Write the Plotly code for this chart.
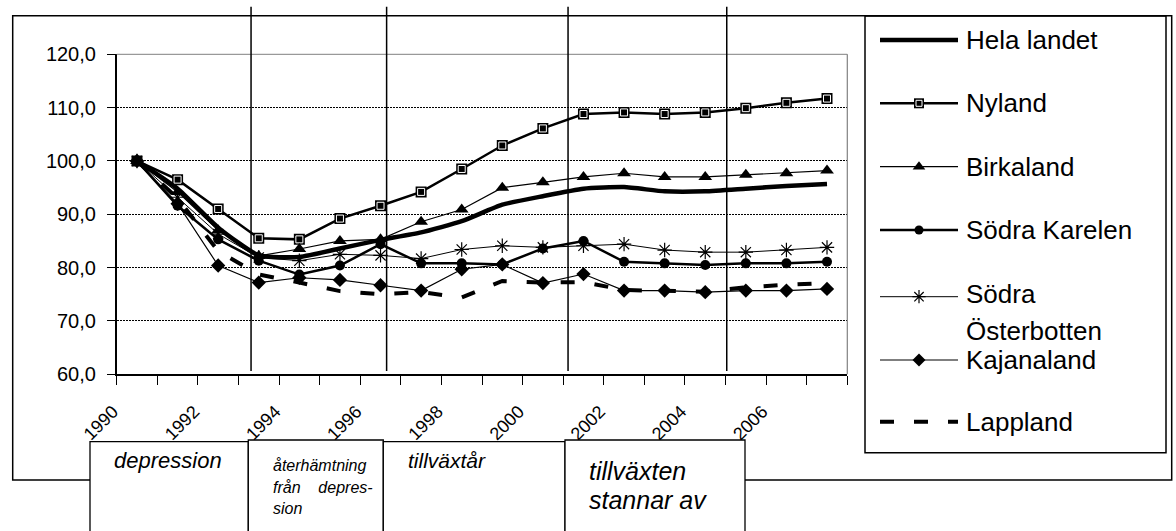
import plotly.graph_objects as go

W, H = 1176, 531

# ---------------- data ----------------
years = list(range(1990, 2008))
hela_landet = [100, 94.8, 87.5, 82.3, 82.0, 83.6, 85.2, 86.6, 88.7, 91.8, 93.4, 94.8, 95.1, 94.3, 94.3, 94.8, 95.3, 95.7]
nyland = [100, 96.5, 91.0, 85.5, 85.3, 89.2, 91.6, 94.2, 98.5, 102.9, 106.1, 108.8, 109.1, 108.8, 109.1, 109.9, 110.9, 111.7]
birkaland = [100, 94.2, 87.0, 82.2, 83.5, 85.0, 85.3, 88.6, 90.9, 95.0, 96.0, 97.0, 97.7, 97.0, 97.0, 97.4, 97.7, 98.2]
sodra_karelen = [100, 91.6, 85.3, 81.3, 78.7, 80.4, 84.4, 80.8, 80.8, 80.6, 83.6, 85.0, 81.1, 80.8, 80.5, 80.8, 80.8, 81.1]
sodra_osterbotten = [100, 93.2, 86.3, 81.9, 81.3, 82.5, 82.3, 81.7, 83.4, 84.1, 83.8, 84.1, 84.4, 83.3, 82.9, 82.9, 83.3, 83.8]
kajanaland = [100, 92.0, 80.4, 77.2, 78.1, 77.7, 76.7, 75.7, 79.7, 80.6, 77.1, 78.8, 75.7, 75.7, 75.4, 75.7, 75.7, 76.0]
lappland = [100, 93.0, 83.1, 78.7, 77.2, 75.6, 75.0, 75.4, 74.4, 77.5, 77.2, 77.3, 75.8, 75.6, 75.5, 76.3, 76.8, 77.1]

tick_years = [1990, 1992, 1994, 1996, 1998, 2000, 2002, 2004, 2006]
y_ticks = [60, 70, 80, 90, 100, 110, 120]
phase_lines = [1992.81, 1996.15, 2000.62, 2004.53]

legend_names = ["Hela landet", "Nyland", "Birkaland", "Södra Karelen", "Södra", "Österbotten", "Kajanaland", "Lappland"]
phase_texts = ["depression", "återhämtning", "från\u00a0\u00a0\u00a0\u00a0depres-", "sion", "tillväxtår", "tillväxten", "stannar av"]


def px(x):
    return x / W


def py(y):
    return 1 - y / H


fig = go.Figure()

# ---------------- series ----------------
fig.add_trace(go.Scatter(x=years, y=hela_landet, mode="lines", name=legend_names[0],
                         line=dict(color="black", width=4.5, shape="spline", smoothing=0.5)))
fig.add_trace(go.Scatter(x=years, y=nyland, mode="lines+markers", name=legend_names[1],
                         line=dict(color="black", width=2.5),
                         marker=dict(symbol="square", size=11, color="black")))
fig.add_trace(go.Scatter(x=years, y=nyland, mode="markers", showlegend=False,
                         marker=dict(symbol="square-open", size=7, color="white", line=dict(width=1, color="white"))))
fig.add_trace(go.Scatter(x=years, y=birkaland, mode="lines+markers", name=legend_names[2],
                         line=dict(color="black", width=1.2),
                         marker=dict(symbol="triangle-up", size=12, color="black")))
fig.add_trace(go.Scatter(x=years, y=sodra_karelen, mode="lines+markers", name=legend_names[3],
                         line=dict(color="black", width=2.5),
                         marker=dict(symbol="circle", size=10, color="black")))
fig.add_trace(go.Scatter(x=years, y=sodra_osterbotten, mode="lines+markers", name="Södra Österbotten",
                         line=dict(color="black", width=1),
                         marker=dict(symbol="asterisk-open", size=12, color="black", line=dict(width=1.2, color="black"))))
fig.add_trace(go.Scatter(x=years, y=kajanaland, mode="lines+markers", name=legend_names[6],
                         line=dict(color="black", width=1.2),
                         marker=dict(symbol="diamond", size=11, color="black")))
fig.add_trace(go.Scatter(x=years, y=lappland, mode="lines", name=legend_names[7],
                         line=dict(color="black", width=4, dash="14px,20px")))

# ---------------- custom legend (overlay pixel axes) ----------------
row_y = [40, 103.3, 166.7, 230, 296.7, 360, 421.7]
seg_x = [880, 958]
mid_x = 919
styles = [
    dict(width=4.5, dash="solid", marker=None),
    dict(width=2.5, dash="solid", marker=dict(symbol="square", size=10, color="black")),
    dict(width=1.2, dash="solid", marker=dict(symbol="triangle-up", size=11, color="black")),
    dict(width=2.5, dash="solid", marker=dict(symbol="circle", size=9, color="black")),
    dict(width=1, dash="solid", marker=dict(symbol="asterisk-open", size=11, color="black", line=dict(width=1.2, color="black"))),
    dict(width=1.2, dash="solid", marker=dict(symbol="diamond", size=10, color="black")),
    dict(width=4, dash="14px,20px", marker=None),
]
for ry, st in zip(row_y, styles):
    fig.add_trace(go.Scatter(x=seg_x, y=[ry, ry], mode="lines", xaxis="x2", yaxis="y2", showlegend=False,
                             hoverinfo="skip", line=dict(color="black", width=st["width"], dash=st["dash"])))
    if st["marker"] is not None:
        fig.add_trace(go.Scatter(x=[mid_x], y=[ry], mode="markers", xaxis="x2", yaxis="y2", showlegend=False,
                                 hoverinfo="skip", marker=st["marker"]))
fig.add_trace(go.Scatter(x=[mid_x], y=[row_y[1]], mode="markers", xaxis="x2", yaxis="y2", showlegend=False,
                         hoverinfo="skip",
                         marker=dict(symbol="square-open", size=6, color="white", line=dict(width=1, color="white"))))

legend_text_y = [40, 103.3, 166.7, 230, 294, 331, 360, 422]
annotations = []
for name, ty in zip(legend_names, legend_text_y):
    annotations.append(dict(x=px(964), y=py(ty), xref="paper", yref="paper", text=name, showarrow=False,
                            xanchor="left", yanchor="middle", font=dict(size=26, color="black")))

# phase box texts
annotations += [
    dict(x=px(112), y=py(460), text=phase_texts[0], font=dict(size=22)),
    dict(x=px(271), y=py(465), text=phase_texts[1], font=dict(size=16)),
    dict(x=px(271), y=py(487), text=phase_texts[2], font=dict(size=16)),
    dict(x=px(271), y=py(508.5), text=phase_texts[3], font=dict(size=16)),
    dict(x=px(406), y=py(460), text=phase_texts[4], font=dict(size=21)),
    dict(x=px(587), y=py(471), text=phase_texts[5], font=dict(size=25)),
    dict(x=px(587), y=py(500), text=phase_texts[6], font=dict(size=25)),
]
for a in annotations[len(legend_names):]:
    a.update(xref="paper", yref="paper", showarrow=False, xanchor="left", yanchor="middle")
    a["text"] = "<i>" + a["text"] + "</i>"
    a["font"].setdefault("color", "black")

# ---------------- shapes ----------------
shapes = []
# outer frame
shapes.append(dict(type="rect", xref="paper", yref="paper", x0=px(12.7), x1=px(1171.7), y0=py(480), y1=py(15.7),
                   line=dict(color="black", width=1.5), layer="above"))
# legend frame
shapes.append(dict(type="rect", xref="paper", yref="paper", x0=px(865), x1=px(1166), y0=py(452.7), y1=py(16),
                   line=dict(color="black", width=1.5), layer="above"))
# grey plot-area border (top/right)
shapes.append(dict(type="line", xref="paper", yref="paper", x0=px(116.7), x1=px(847.3), y0=py(54.3), y1=py(54.3),
                   line=dict(color="#808080", width=1), layer="above"))
shapes.append(dict(type="line", xref="paper", yref="paper", x0=px(847.3), x1=px(847.3), y0=py(374.3), y1=py(54.3),
                   line=dict(color="#808080", width=1.2), layer="above"))
# phase separators
for xv in phase_lines:
    shapes.append(dict(type="line", xref="x", yref="paper", x0=xv, x1=xv, y0=py(371), y1=py(6.7),
                       line=dict(color="black", width=1.5), layer="above"))
# phase boxes
boxes = [(90, 248.3, 441.7), (248.3, 383.3, 440), (383.3, 565, 441.7), (565, 745, 440)]
for x0, x1, top in boxes:
    shapes.append(dict(type="rect", xref="paper", yref="paper", x0=px(x0), x1=px(x1), y0=-0.1, y1=py(top),
                       fillcolor="white", line=dict(color="black", width=1.3), layer="above"))

fig.update_layout(
    width=W, height=H,
    margin=dict(l=0, r=0, t=0, b=0, autoexpand=False),
    paper_bgcolor="white", plot_bgcolor="rgba(0,0,0,0)",
    showlegend=False,
    separators=", ",
    font=dict(family="Liberation Sans, Arial, sans-serif", color="black"),
    xaxis=dict(domain=[px(116.7), px(847.3)], range=[1989.5, 2007.5], automargin=False,
               tickvals=tick_years, ticktext=[str(t) for t in tick_years],
               tickangle=-45, ticks="", showgrid=False, zeroline=False,
               showline=True, linecolor="black", linewidth=1.5,
               tickfont=dict(size=18, color="black"),
               minor=dict(tickvals=[y - 0.5 for y in years] + [years[-1] + 0.5], ticks="outside",
                          ticklen=9, tickcolor="black", tickwidth=1, showgrid=False),
               ticklabelshift=-24, ticklabelstandoff=18, fixedrange=True),
    yaxis=dict(domain=[py(374.3), py(54.3)], range=[60, 120], tickvals=y_ticks, tickformat=".1f",
               automargin=False,
               ticks="outside", ticklen=8, tickcolor="black", tickwidth=1,
               showline=True, linecolor="black", linewidth=1.5,
               showgrid=True, gridcolor="black", gridwidth=1, griddash="2px,1px", zeroline=False,
               tickfont=dict(size=20, color="black"), ticklabelstandoff=7, fixedrange=True),
    xaxis2=dict(domain=[0, 1], range=[0, W], visible=False, anchor="y2", fixedrange=True, automargin=False),
    yaxis2=dict(domain=[0, 1], range=[H, 0], visible=False, anchor="x2", fixedrange=True, automargin=False),
    shapes=shapes,
    annotations=annotations,
)

fig.write_html("out.html")
